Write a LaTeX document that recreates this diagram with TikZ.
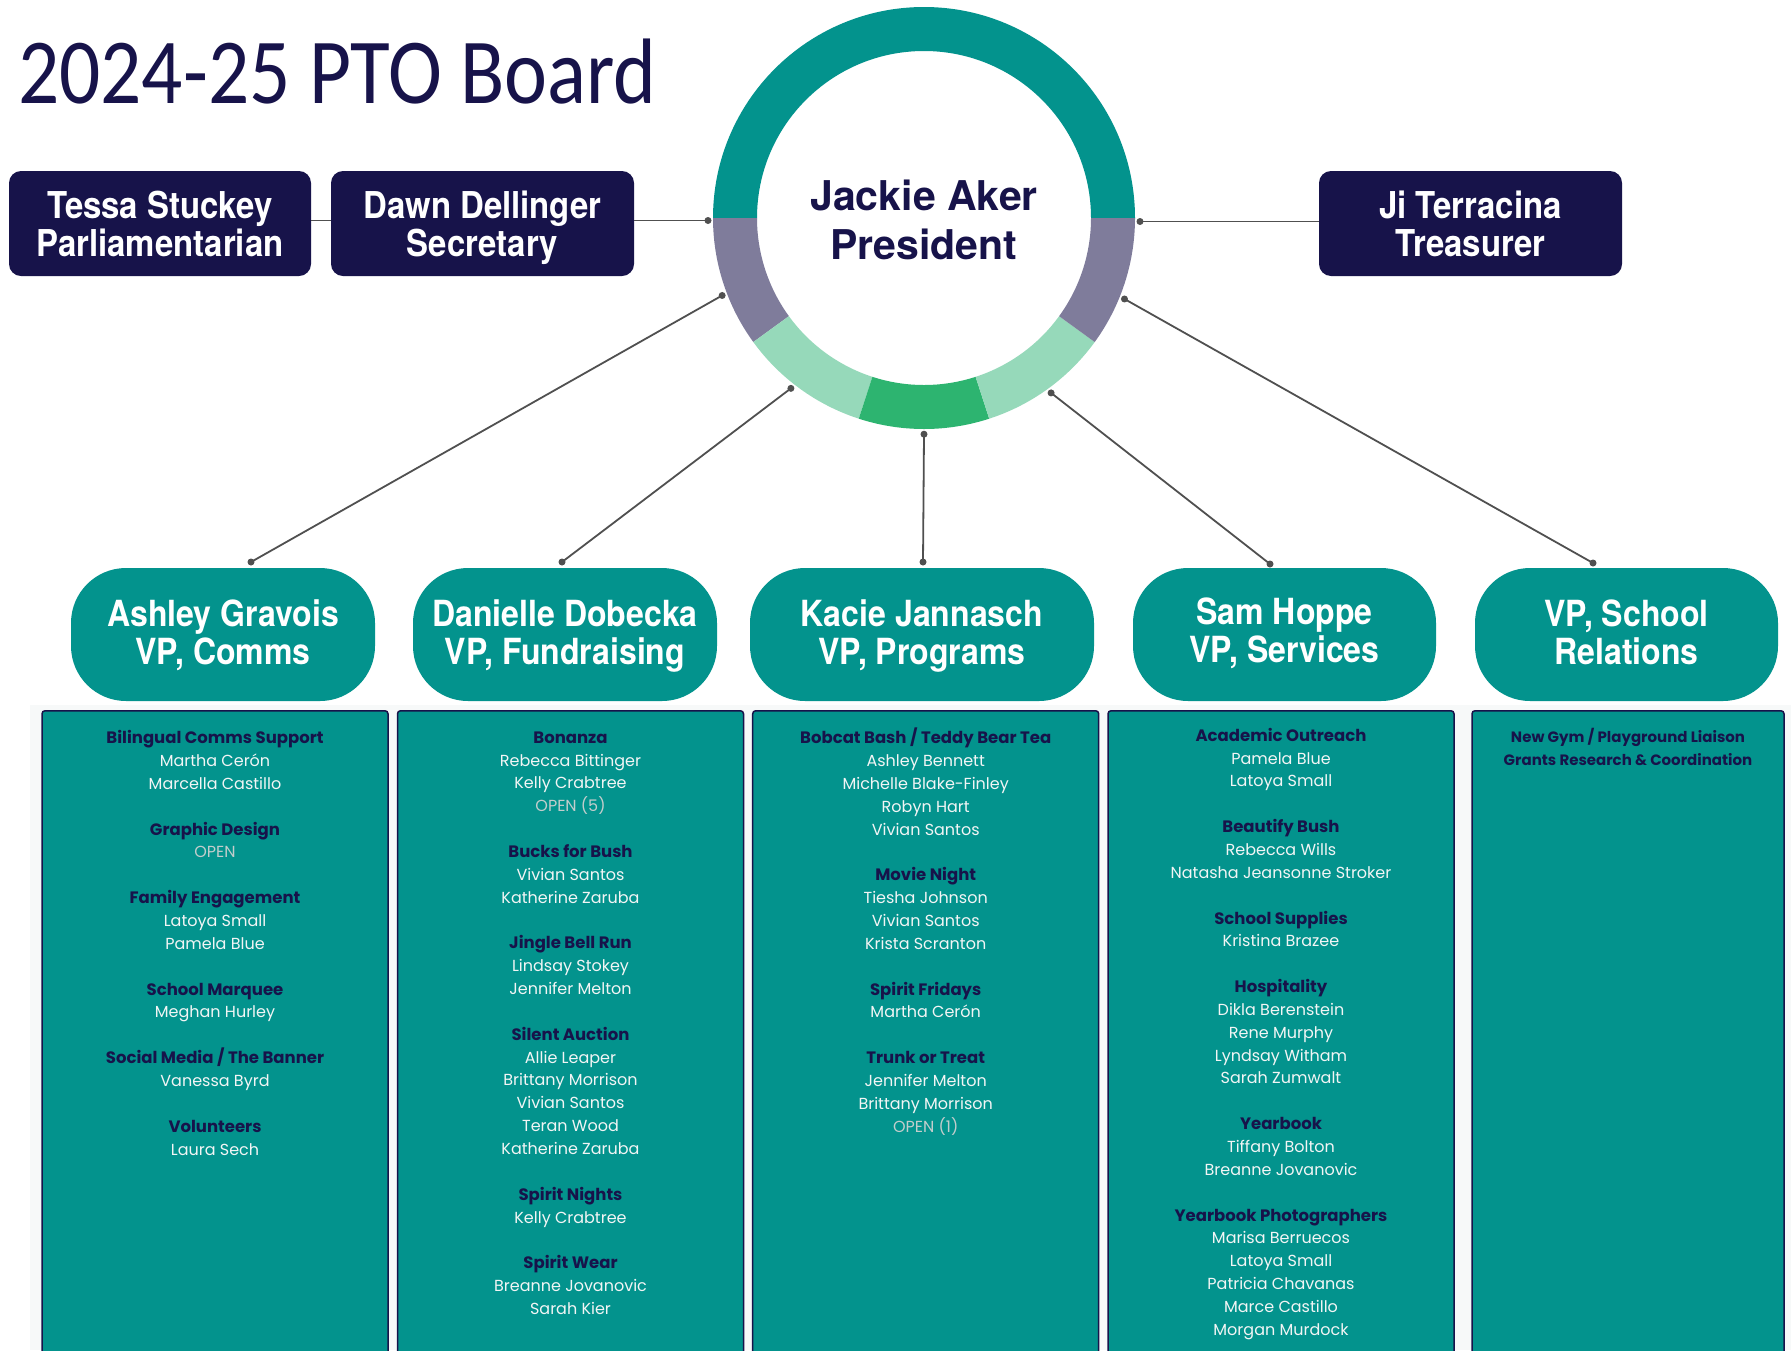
\documentclass[tikz,border=0pt]{standalone}
\usepackage{fontspec}
\setmainfont{TeX Gyre Heros}
\newfontfamily\titlefont[FakeStretch=0.875]{Carlito}
\newfontfamily\boxfont[FakeStretch=0.89]{TeX Gyre Heros}
\newfontfamily\ringfont{TeX Gyre Heros}
\newfontfamily\listfont{Poppins}
\definecolor{navy}{HTML}{17134A}
\definecolor{pteal}{HTML}{03938D}
\definecolor{ringgrey}{HTML}{7F7C9B}
\definecolor{lgreen}{HTML}{96D9BA}
\definecolor{mgreen}{HTML}{2DB470}
\definecolor{linegrey}{HTML}{505050}
\definecolor{namewhite}{HTML}{F2F5F5}
\definecolor{opengrey}{HTML}{C3CDCC}
\definecolor{bgpale}{HTML}{F7F9F9}
\newcommand\grp[1]{\textcolor{navy}{\fontsize{16.5}{22.85}\selectfont\bfseries #1}}
\newcommand\opn[1]{\textcolor{opengrey}{#1}}
% fixed line pitch regardless of glyph heights
\newcommand\nols{\setlength\lineskiplimit{-100pt}\setlength\lineskip{0pt}}
% line struts that fix the vertical placement of each line
\newcommand\tbs{\rule[-9pt]{0pt}{46pt}}
\newcommand\vps{\rule[-9pt]{0pt}{40pt}}
\newcommand\vpsam{\rule[-9pt]{0pt}{28pt}}
\newcommand\rgs{\rule[-9pt]{0pt}{52pt}}
\newcommand\fl{\rule{0pt}{16pt}}
\newcommand\topfont{\boxfont\bfseries\fontsize{37}{38}\selectfont\nols}
\newcommand\vpfont{\boxfont\bfseries\fontsize{36}{38}\selectfont\nols}
\newcommand\presfont{\ringfont\bfseries\fontsize{41}{49}\selectfont\nols}
\tikzset{
 topbox/.style={fill=navy, rounded corners=12pt, text=white, font=\topfont, align=center, minimum height=105pt, inner sep=0pt},
 vpbox/.style={fill=pteal, rounded corners=55pt, text=white, font=\vpfont, align=center, minimum height=133pt, inner sep=0pt},
 colbox/.style={fill=pteal, draw=navy, line width=1.5pt, rounded corners=3pt, anchor=north, minimum height=660pt, inner sep=0pt},
 listtext/.style={anchor=north, align=center, inner sep=0pt, text=namewhite, font=\listfont\fontsize{16}{22.85}\selectfont},
 conn/.style={draw=linegrey, line width=1.8pt},
 cdot/.style={fill=linegrey}
}
\begin{document}
\begin{tikzpicture}[x=1pt,y=-1pt]
\useasboundingbox (0,0) rectangle (1791,1350);
\fill[white] (0,0) rectangle (1791,1350);
\fill[bgpale] (30,705) rectangle (1791,1350);

% title
\node[anchor=base west, inner sep=0pt, text=navy, font=\titlefont\fontsize{93}{100}\selectfont] (title) at (18,103) {2024-25 PTO Board};

% president ring
\begin{scope}[shift={(924,218)}, yscale=-1]
 \fill[pteal] (0:211) arc[start angle=0, end angle=180, radius=211] -- (180:167) arc[start angle=180, end angle=0, radius=167] -- cycle;
 \fill[ringgrey] (180:211) arc[start angle=180, end angle=216, radius=211] -- (216:167) arc[start angle=216, end angle=180, radius=167] -- cycle;
 \fill[lgreen] (216:211) arc[start angle=216, end angle=252, radius=211] -- (252:167) arc[start angle=252, end angle=216, radius=167] -- cycle;
 \fill[mgreen] (252:211) arc[start angle=252, end angle=288, radius=211] -- (288:167) arc[start angle=288, end angle=252, radius=167] -- cycle;
 \fill[lgreen] (288:211) arc[start angle=288, end angle=324, radius=211] -- (324:167) arc[start angle=324, end angle=288, radius=167] -- cycle;
 \fill[ringgrey] (324:211) arc[start angle=324, end angle=360, radius=211] -- (360:167) arc[start angle=360, end angle=324, radius=167] -- cycle;
\end{scope}
\node[circle, minimum size=432pt, inner sep=0pt, align=center, text=navy, font=\presfont] (pres) at (924,218) {\rgs Jackie Aker\\\rgs President};

% top boxes
\node[topbox, minimum width=302pt] (tessa) at (160,223.5) {\tbs Tessa Stuckey\\\tbs Parliamentarian};
\node[topbox, minimum width=303pt] (dawn) at (482.5,223.5) {\tbs Dawn Dellinger\\\tbs Secretary};
\node[topbox, minimum width=303pt] (ji) at (1470.5,223.5) {\tbs Ji Terracina\\\tbs Treasurer};

% VP boxes
\node[vpbox, minimum width=304pt] (ashley) at (223,634.5) {\vps Ashley Gravois\\\vps VP, Comms};
\node[vpbox, minimum width=304pt] (danielle) at (565,634.5) {\vps Danielle Dobecka\\\vps VP, Fundraising};
\node[vpbox, minimum width=344pt] (kacie) at (922,634.5) {\vps Kacie Jannasch\\\vps VP, Programs};
\node[vpbox, minimum width=303pt] (sam) at (1284.5,634.5) {\vpsam Sam Hoppe\\\vpsam VP, Services};
\node[vpbox, minimum width=303pt] (school) at (1626.5,634.5) {\vps VP, School\\\vps Relations};

% connector end points
\coordinate (dotL) at (708,220.5);
\coordinate (dotR) at (1140,221.5);
\coordinate (rA) at (pres.201.3);
\coordinate (rB) at (pres.232.5);
\coordinate (rC) at (pres.270);
\coordinate (rD) at (pres.306.5);
\coordinate (rE) at (pres.338.7);
\coordinate (eA) at (251,562);
\coordinate (eB) at (562,562);
\coordinate (eC) at (923,562);
\coordinate (eD) at (1270,564);
\coordinate (eE) at (1593,563);

\draw[conn] (tessa.east |- dotL) -- (dawn.west |- dotL);
\draw[conn] (dotL -| dawn.east) -- (dotL);
\draw[conn] (dotR) -- (dotR -| ji.west);
\draw[conn] (rA) -- (eA);
\draw[conn] (rB) -- (eB);
\draw[conn] (rC) -- (eC);
\draw[conn] (rD) -- (eD);
\draw[conn] (rE) -- (eE);
\foreach \p in {dotL,dotR,rA,rB,rC,rD,rE,eA,eB,eC,eD,eE} \fill[cdot] (\p) circle[radius=3.5pt];

% detail columns
\node[colbox, minimum width=346pt] (c1) at (215,710) {};
\node[colbox, minimum width=346pt] (c2) at (570.5,710) {};
\node[colbox, minimum width=346pt] (c3) at (925.7,710) {};
\node[colbox, minimum width=346pt] (c4) at (1281,710) {};
\node[colbox, minimum width=312pt] (c5) at (1628,710) {};

\node[listtext] (t1) at (215,727.5) {\fl\grp{Bilingual Comms Support}\\Martha Cerón\\Marcella Castillo\\[22.85pt]
\grp{Graphic Design}\\\opn{OPEN}\\[22.85pt]
\grp{Family Engagement}\\Latoya Small\\Pamela Blue\\[22.85pt]
\grp{School Marquee}\\Meghan Hurley\\[22.85pt]
\grp{Social Media / The Banner}\\Vanessa Byrd\\[22.85pt]
\grp{Volunteers}\\Laura Sech};

\node[listtext] (t2) at (570.5,727) {\fl\grp{Bonanza}\\Rebecca Bittinger\\Kelly Crabtree\\\opn{OPEN (5)}\\[22.85pt]
\grp{Bucks for Bush}\\Vivian Santos\\Katherine Zaruba\\[22.85pt]
\grp{Jingle Bell Run}\\Lindsay Stokey\\Jennifer Melton\\[22.85pt]
\grp{Silent Auction}\\Allie Leaper\\Brittany Morrison\\Vivian Santos\\Teran Wood\\Katherine Zaruba\\[22.85pt]
\grp{Spirit Nights}\\Kelly Crabtree\\[22.85pt]
\grp{Spirit Wear}\\Breanne Jovanovic\\Sarah Kier};

\node[listtext] (t3) at (925.7,727.5) {\fl\grp{Bobcat Bash / Teddy Bear Tea}\\Ashley Bennett\\Michelle Blake-Finley\\Robyn Hart\\Vivian Santos\\[22.85pt]
\grp{Movie Night}\\Tiesha Johnson\\Vivian Santos\\Krista Scranton\\[22.85pt]
\grp{Spirit Fridays}\\Martha Cerón\\[22.85pt]
\grp{Trunk or Treat}\\Jennifer Melton\\Brittany Morrison\\\opn{OPEN (1)}};

\node[listtext] (t4) at (1281,725) {\fl\grp{Academic Outreach}\\Pamela Blue\\Latoya Small\\[22.85pt]
\grp{Beautify Bush}\\Rebecca Wills\\Natasha Jeansonne Stroker\\[22.85pt]
\grp{School Supplies}\\Kristina Brazee\\[22.85pt]
\grp{Hospitality}\\Dikla Berenstein\\Rene Murphy\\Lyndsay Witham\\Sarah Zumwalt\\[22.85pt]
\grp{Yearbook}\\Tiffany Bolton\\Breanne Jovanovic\\[22.85pt]
\grp{Yearbook Photographers}\\Marisa Berruecos\\Latoya Small\\Patricia Chavanas\\Marce Castillo\\Morgan Murdock};

\node[listtext] (t5) at (1628,726) {\fl\textcolor{navy}{\fontsize{15}{22.85}\selectfont\bfseries New Gym / Playground Liaison}\\\textcolor{navy}{\fontsize{15}{22.85}\selectfont\bfseries Grants Research \& Coordination}};
\end{tikzpicture}
\end{document}
